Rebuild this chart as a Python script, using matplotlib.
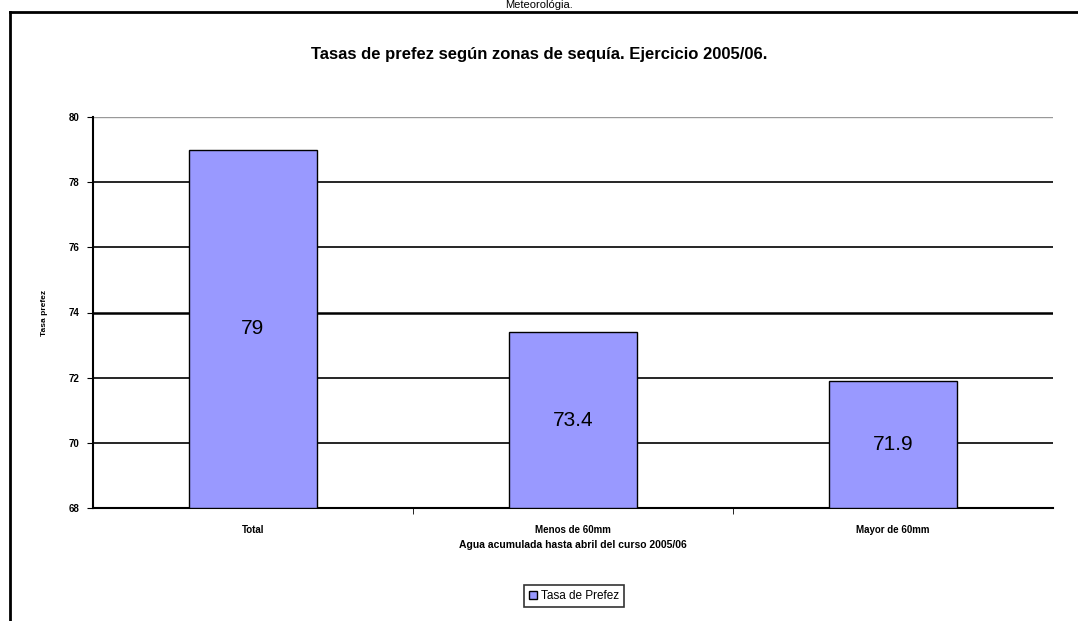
import numpy as np
import matplotlib.pyplot as plt
from matplotlib.lines import Line2D

categories = ['Total', 'Menos de 60mm', 'Mayor de 60mm']
tasa_prefez = [79, 73.4, 71.9]
yticks = [68, 70, 72, 74, 76, 78, 80]

plt.rcParams['font.family'] = ['Liberation Sans', 'DejaVu Sans']

fig = plt.figure(figsize=(10.78, 6.21), dpi=100)
ax = fig.add_axes([93 / 1078, 1 - 508 / 621, 960 / 1078, 391 / 621])

x = np.arange(len(categories))
bars = ax.bar(x, [v - yticks[0] for v in tasa_prefez], bottom=yticks[0], width=0.4,
              color='#9999ff', edgecolor='black', linewidth=1, zorder=3,
              label='Tasa de Prefez')

for b, v in zip(bars, tasa_prefez):
    ax.text(b.get_x() + b.get_width() / 2, (yticks[0] + v) / 2, f'{v:g}',
            ha='center', va='center', fontsize=15, zorder=4)

ax.set_xlim(-0.5, 2.5)
ax.set_ylim(yticks[0], yticks[-1])
ax.set_yticks(yticks)
ax.set_yticklabels([str(t) for t in yticks], fontsize=7, fontweight='bold')
ax.set_xticks(x)
ax.set_xticklabels(categories, fontsize=7, fontweight='bold')
ax.set_xticks([0.5, 1.5], minor=True)
ax.tick_params(axis='x', which='major', length=0, pad=12)
ax.tick_params(axis='x', which='minor', length=4, direction='out')
ax.tick_params(axis='y', length=4, direction='out', pad=6)

for t in yticks[1:-1]:
    ax.axhline(t, color='black', linewidth=1.2 if t != 74 else 1.8, zorder=1)
ax.axhline(yticks[-1], color='#999999', linewidth=1, zorder=1)

for s in ['top', 'right']:
    ax.spines[s].set_visible(False)
ax.spines['left'].set_linewidth(1.5)
ax.spines['bottom'].set_linewidth(1.5)

ax.set_ylabel('Tasa prefez', fontsize=6, fontweight='bold')
ax.yaxis.set_label_coords(-45 / 960, 0.5)
ax.set_xlabel('Agua acumulada hasta abril del curso 2005/06', fontsize=7.5,
              fontweight='bold', labelpad=4)

fig.text(0.5, 1 - 55 / 621, 'Tasas de prefez según zonas de sequía. Ejercicio 2005/06.',
         ha='center', va='center', fontsize=12, fontweight='bold')
fig.text(0.5, 1.0, 'Meteorológia.', ha='center', va='top', fontsize=8)

# outer chart border
fig.add_artist(Line2D([10 / 1078, 10 / 1078], [0, 1 - 12 / 621], color='black', linewidth=2))
fig.add_artist(Line2D([10 / 1078, 1], [1 - 12 / 621, 1 - 12 / 621], color='black', linewidth=2))

leg = fig.legend(handles=[bars], labels=['Tasa de Prefez'], loc='center',
                 bbox_to_anchor=(574 / 1078, 1 - 596 / 621), fontsize=8.5,
                 frameon=True, fancybox=False, edgecolor='black',
                 handlelength=0.7, handleheight=0.7, handletextpad=0.3,
                 borderpad=0.45)
leg.get_frame().set_linewidth(1.2)

fig.savefig('out.png', dpi=100)
